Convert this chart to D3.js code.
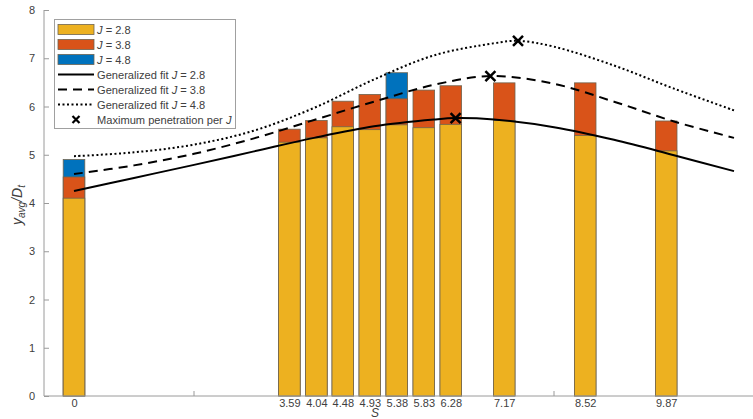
<!DOCTYPE html>
<html>
<head>
<meta charset="utf-8">
<script src="https://cdn.jsdelivr.net/npm/d3@7"></script>
<style>
  body { margin: 0; background: #fff; }
  svg { display: block; font-family: "Liberation Sans", Arial, sans-serif; }
</style>
</head>
<body>
<svg id="chart" width="753" height="419"></svg>
<script>
// ---- data ----
const sValues = [0, 3.59, 4.04, 4.48, 4.93, 5.38, 5.83, 6.28, 7.17, 8.52, 9.87];
const xTickLabels = ["0", "3.59", "4.04", "4.48", "4.93", "5.38", "5.83", "6.28", "7.17", "8.52", "9.87"];
const extraTicks = [2, 8];
const yJ28 = [4.10, 5.26, 5.35, 5.58, 5.52, 5.62, 5.56, 5.63, 5.71, 5.40, 5.08];
const yJ38 = [4.54, 5.53, 5.71, 6.11, 6.25, 6.16, 6.34, 6.43, 6.49, 6.49, 5.70];
const yJ48 = [4.90, null, null, null, null, 6.70, null, null, null, null, null];
const yTicks = [0, 1, 2, 3, 4, 5, 6, 7, 8];

const fit28S = [0, 1, 2, 3, 4, 5, 6, 6.36, 7, 8, 9, 10, 11];
const fit28Y = [4.25, 4.52, 4.79, 5.07, 5.35, 5.59, 5.73, 5.76, 5.73, 5.57, 5.31, 4.99, 4.66];
const fit38S = [0, 1, 2, 3, 4, 5, 6, 6.94, 8, 9, 10, 11];
const fit38Y = [4.60, 4.78, 5.02, 5.34, 5.72, 6.10, 6.45, 6.63, 6.47, 6.10, 5.69, 5.35];
const fit48S = [0, 1, 2, 3, 4, 5, 6, 7, 7.40, 8, 9, 10, 11];
const fit48Y = [4.97, 5.05, 5.21, 5.50, 5.97, 6.56, 7.06, 7.31, 7.36, 7.24, 6.85, 6.37, 5.92];
const maxS = [6.36, 6.94, 7.40];
const maxY = [5.76, 6.63, 7.36];

const colors = ["#EDB120", "#D95319", "#0072BD"];

// ---- layout ----
const svg = d3.select("#chart");
const pL = 44, pR = 764, pT = 10, pB = 396;
const x = d3.scaleLinear().domain([-0.5, 11.5]).range([pL, pR]);
const y = d3.scaleLinear().domain([0, 8]).range([pB, pT]);
const barW = x(0.36) - x(0);
const axisColor = "#9a9a9a";
const textColor = "#404040";

// bars: draw larger J behind
const barSeries = [yJ48, yJ38, yJ28];
const barColors = [colors[2], colors[1], colors[0]];
barSeries.forEach((vals, k) => {
  svg.append("g").selectAll("rect")
    .data(sValues.map((s, i) => ({ s, v: vals[i] })).filter(d => d.v != null))
    .join("rect")
    .attr("x", d => x(d.s) - barW / 2)
    .attr("y", d => y(d.v))
    .attr("width", barW)
    .attr("height", d => y(0) - y(d.v))
    .attr("fill", barColors[k])
    .attr("stroke", "#6e6450")
    .attr("stroke-width", 0.8);
});

// axes
const xAxis = d3.axisBottom(x).tickValues(sValues).tickFormat((d, i) => xTickLabels[i]).tickSize(0).tickPadding(3);
const gx = svg.append("g").attr("transform", `translate(0,${pB})`).call(xAxis);
gx.select(".domain").attr("stroke", axisColor).attr("d", `M${pL},0H${pR}`);
gx.selectAll("text").attr("fill", textColor).attr("font-size", 11);
svg.append("g").selectAll("line").data(extraTicks).join("line")
  .attr("x1", d => x(d)).attr("x2", d => x(d))
  .attr("y1", pB).attr("y2", pB - 5)
  .attr("stroke", axisColor);

const yAxis = d3.axisLeft(y).tickValues(yTicks).tickSize(-5).tickPadding(9);
const gy = svg.append("g").attr("transform", `translate(${pL},0)`).call(yAxis);
gy.select(".domain").attr("stroke", axisColor).attr("d", `M0,${pT}V${pB}`);
gy.selectAll(".tick line").attr("stroke", axisColor);
gy.selectAll("text").attr("fill", textColor).attr("font-size", 11);

// axis labels
svg.append("text").attr("x", 375).attr("y", 417).attr("text-anchor", "middle")
  .attr("fill", textColor).attr("font-size", 12).attr("font-style", "italic").text("S");
const yl = svg.append("text").attr("transform", `translate(22,${(pT + pB) / 2 + 2}) rotate(-90)`)
  .attr("text-anchor", "middle").attr("fill", textColor).attr("font-size", 14).attr("font-style", "italic");
yl.append("tspan").text("y");
yl.append("tspan").attr("font-size", 10).attr("dy", 3).text("avg");
yl.append("tspan").attr("dy", -3).text("/D");
yl.append("tspan").attr("font-size", 10).attr("dy", 3).text("t");

// fit curves
const line = d3.line().x(d => x(d[0])).y(d => y(d[1])).curve(d3.curveCatmullRom.alpha(0.5));
const fits = [
  { s: fit28S, v: fit28Y, dash: null },
  { s: fit38S, v: fit38Y, dash: "9,6" },
  { s: fit48S, v: fit48Y, dash: "2,2.5" }
];
fits.forEach(f => {
  svg.append("path").datum(f.s.map((s, i) => [s, f.v[i]]))
    .attr("d", line).attr("fill", "none").attr("stroke", "#000")
    .attr("stroke-width", 2).attr("stroke-dasharray", f.dash);
});

// max markers
const cross = 5;
svg.append("g").selectAll("path").data(maxS.map((s, i) => [s, maxY[i]])).join("path")
  .attr("d", d => `M${x(d[0]) - cross},${y(d[1]) - cross}L${x(d[0]) + cross},${y(d[1]) + cross}M${x(d[0]) - cross},${y(d[1]) + cross}L${x(d[0]) + cross},${y(d[1]) - cross}`)
  .attr("stroke", "#000").attr("stroke-width", 2.5).attr("fill", "none");

// legend
const lg = svg.append("g");
lg.append("rect").attr("x", 54.5).attr("y", 19.5).attr("width", 181).attr("height", 109)
  .attr("fill", "#fff").attr("stroke", "#a0a0a0").attr("stroke-width", 1);
const rowY = [29.5, 44.5, 59.5, 74.5, 89.5, 104.5, 119.5];
const legendItems = [
  { type: "bar", color: colors[0], pre: "", j: "2.8" },
  { type: "bar", color: colors[1], pre: "", j: "3.8" },
  { type: "bar", color: colors[2], pre: "", j: "4.8" },
  { type: "line", dash: null, pre: "Generalized fit ", j: "2.8" },
  { type: "line", dash: "9,6", pre: "Generalized fit ", j: "3.8" },
  { type: "line", dash: "2,2.5", pre: "Generalized fit ", j: "4.8" },
  { type: "x", pre: "Maximum penetration per ", j: null }
];
legendItems.forEach((it, i) => {
  const cy = rowY[i];
  if (it.type === "bar") {
    lg.append("rect").attr("x", 58).attr("y", cy - 5).attr("width", 36).attr("height", 10)
      .attr("fill", it.color).attr("stroke", "#6e6450").attr("stroke-width", 0.8);
  } else if (it.type === "line") {
    lg.append("line").attr("x1", 58).attr("x2", 94).attr("y1", cy).attr("y2", cy)
      .attr("stroke", "#000").attr("stroke-width", 2).attr("stroke-dasharray", it.dash);
  } else {
    const cx = 76, c = 3.5;
    lg.append("path").attr("d", `M${cx - c},${cy - c}L${cx + c},${cy + c}M${cx - c},${cy + c}L${cx + c},${cy - c}`)
      .attr("stroke", "#000").attr("stroke-width", 2.2);
  }
  const t = lg.append("text").attr("x", 97).attr("y", cy + 4).attr("font-size", 11.1).attr("fill", textColor);
  t.append("tspan").text(it.pre);
  t.append("tspan").attr("font-style", "italic").text("J");
  if (it.j) t.append("tspan").text(" = " + it.j);
});
</script>
</body>
</html>
